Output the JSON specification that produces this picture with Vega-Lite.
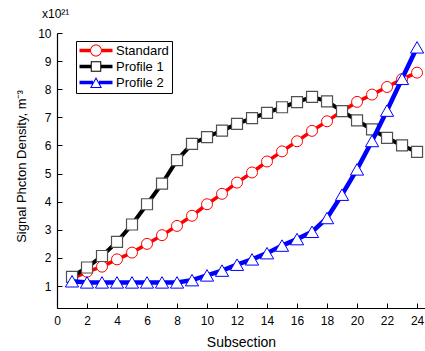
{
  "$schema": "https://vega.github.io/schema/vega-lite/v6.json",
  "width": 368,
  "height": 275,
  "autosize": {"type": "none"},
  "padding": {"left": 57, "top": 33, "right": 0, "bottom": 43},
  "background": "white",
  "title": {
    "text": "x10²¹",
    "anchor": "start",
    "frame": "group",
    "orient": "top",
    "dx": -15,
    "offset": 6,
    "font": "Liberation Sans",
    "fontSize": 12,
    "fontWeight": "normal",
    "color": "black"
  },
  "data": {
    "values": [
      {"s": "Standard", "x": 1, "y": 1.25}, {"s": "Standard", "x": 2, "y": 1.51}, {"s": "Standard", "x": 3, "y": 1.69},
      {"s": "Standard", "x": 4, "y": 1.95}, {"s": "Standard", "x": 5, "y": 2.19}, {"s": "Standard", "x": 6, "y": 2.5},
      {"s": "Standard", "x": 7, "y": 2.81}, {"s": "Standard", "x": 8, "y": 3.14}, {"s": "Standard", "x": 9, "y": 3.5},
      {"s": "Standard", "x": 10, "y": 3.91}, {"s": "Standard", "x": 11, "y": 4.28}, {"s": "Standard", "x": 12, "y": 4.68},
      {"s": "Standard", "x": 13, "y": 5.04}, {"s": "Standard", "x": 14, "y": 5.43}, {"s": "Standard", "x": 15, "y": 5.79},
      {"s": "Standard", "x": 16, "y": 6.15}, {"s": "Standard", "x": 17, "y": 6.52}, {"s": "Standard", "x": 18, "y": 6.86},
      {"s": "Standard", "x": 19, "y": 7.22}, {"s": "Standard", "x": 20, "y": 7.55}, {"s": "Standard", "x": 21, "y": 7.81},
      {"s": "Standard", "x": 22, "y": 8.08}, {"s": "Standard", "x": 23, "y": 8.36}, {"s": "Standard", "x": 24, "y": 8.59},
      {"s": "Profile 1", "x": 1, "y": 1.33}, {"s": "Profile 1", "x": 2, "y": 1.66}, {"s": "Profile 1", "x": 3, "y": 2.07},
      {"s": "Profile 1", "x": 4, "y": 2.57}, {"s": "Profile 1", "x": 5, "y": 3.19}, {"s": "Profile 1", "x": 6, "y": 3.91},
      {"s": "Profile 1", "x": 7, "y": 4.64}, {"s": "Profile 1", "x": 8, "y": 5.48}, {"s": "Profile 1", "x": 9, "y": 6.06},
      {"s": "Profile 1", "x": 10, "y": 6.3}, {"s": "Profile 1", "x": 11, "y": 6.53}, {"s": "Profile 1", "x": 12, "y": 6.77},
      {"s": "Profile 1", "x": 13, "y": 6.97}, {"s": "Profile 1", "x": 14, "y": 7.16}, {"s": "Profile 1", "x": 15, "y": 7.36},
      {"s": "Profile 1", "x": 16, "y": 7.54}, {"s": "Profile 1", "x": 17, "y": 7.73}, {"s": "Profile 1", "x": 18, "y": 7.57},
      {"s": "Profile 1", "x": 19, "y": 7.22}, {"s": "Profile 1", "x": 20, "y": 6.89}, {"s": "Profile 1", "x": 21, "y": 6.57},
      {"s": "Profile 1", "x": 22, "y": 6.27}, {"s": "Profile 1", "x": 23, "y": 6.0}, {"s": "Profile 1", "x": 24, "y": 5.77},
      {"s": "Profile 2", "x": 1, "y": 1.17}, {"s": "Profile 2", "x": 2, "y": 1.13}, {"s": "Profile 2", "x": 3, "y": 1.13},
      {"s": "Profile 2", "x": 4, "y": 1.13}, {"s": "Profile 2", "x": 5, "y": 1.13}, {"s": "Profile 2", "x": 6, "y": 1.13},
      {"s": "Profile 2", "x": 7, "y": 1.13}, {"s": "Profile 2", "x": 8, "y": 1.13}, {"s": "Profile 2", "x": 9, "y": 1.21},
      {"s": "Profile 2", "x": 10, "y": 1.38}, {"s": "Profile 2", "x": 11, "y": 1.55}, {"s": "Profile 2", "x": 12, "y": 1.76},
      {"s": "Profile 2", "x": 13, "y": 1.95}, {"s": "Profile 2", "x": 14, "y": 2.17}, {"s": "Profile 2", "x": 15, "y": 2.44},
      {"s": "Profile 2", "x": 16, "y": 2.67}, {"s": "Profile 2", "x": 17, "y": 2.93}, {"s": "Profile 2", "x": 18, "y": 3.42},
      {"s": "Profile 2", "x": 19, "y": 4.25}, {"s": "Profile 2", "x": 20, "y": 5.15}, {"s": "Profile 2", "x": 21, "y": 6.16},
      {"s": "Profile 2", "x": 22, "y": 7.24}, {"s": "Profile 2", "x": 23, "y": 8.37}, {"s": "Profile 2", "x": 24, "y": 9.49}
    ]
  },
  "encoding": {
    "x": {
      "field": "x",
      "type": "quantitative",
      "scale": {"domain": [0, 24.53], "nice": false, "zero": false},
      "axis": {
        "title": "Subsection",
        "values": [0, 2, 4, 6, 8, 10, 12, 14, 16, 18, 20, 22, 24],
        "grid": false,
        "tickSize": -5,
        "labelPadding": 12,
        "labelFlush": false,
        "labelOverlap": false,
        "titleY": 38,
        "titleBaseline": "alphabetic",
        "titleFontSize": 14
      }
    },
    "y": {
      "field": "y",
      "type": "quantitative",
      "scale": {"domain": [0.22, 10], "nice": false, "zero": false},
      "axis": {
        "title": "Signal Phcton Density, m⁻³",
        "values": [1, 2, 3, 4, 5, 6, 7, 8, 9, 10],
        "grid": false,
        "tickSize": -5,
        "labelPadding": 11,
        "labelFlush": false,
        "labelOverlap": false,
        "titleX": -32,
        "titleY": 133,
        "titleBaseline": "alphabetic",
        "titleFontSize": 13
      }
    }
  },
  "layer": [
    {
      "transform": [{"filter": "datum.s === 'Standard'"}],
      "mark": {"type": "line", "strokeWidth": 3.5},
      "encoding": {
        "color": {
          "field": "s",
          "type": "nominal",
          "scale": {"domain": ["Standard", "Profile 1", "Profile 2"], "range": ["#ff0000", "#000000", "#0000ff"]},
          "legend": {
            "title": null,
            "orient": "none",
            "legendX": 19,
            "legendY": 8,
            "padding": 3,
            "strokeColor": "black",
            "fillColor": "white",
            "symbolSize": 144,
            "labelOffset": 24,
            "rowPadding": 2,
            "labelFont": "Liberation Sans",
            "labelFontSize": 13,
            "labelColor": "black",
            "encode": {
              "symbols": {
                "update": {
                  "fill": {"scale": "color", "field": "value"},
                  "stroke": {"value": "transparent"},
                  "strokeWidth": {"value": 0},
                  "opacity": {"value": 1},
                  "size": {"value": 144},
                  "shape": {"signal": "datum.value === 'Standard' ? 'M-1,-0.29H0.75V0.29H-1Z M2.75,-0.29H4.5V0.29H2.75Z M0.75,0A1,1 0 1,1 2.75,0A1,1 0 1,1 0.75,0Z M0.92,0A0.83,0.83 0 1,0 2.58,0A0.83,0.83 0 1,0 0.92,0Z' : datum.value === 'Profile 1' ? 'M-1,-0.29H0.875V0.29H-1Z M2.625,-0.29H4.5V0.29H2.625Z M0.875,-0.875H2.625V0.875H0.875Z M1.045,-0.705V0.705H2.455V-0.705Z' : 'M-1,-0.29H1.25V0.29H-1Z M2.25,-0.29H4.5V0.29H2.25Z M1.75,-0.9L2.75,0.9L0.75,0.9Z M1.75,-0.55L1.04,0.73L2.46,0.73Z'"}
                }
              }
            }
          }
        }
      }
    },
    {
      "transform": [{"filter": "datum.s === 'Standard'"}],
      "mark": {"type": "point", "shape": "circle", "size": 120, "filled": true, "fill": "white", "stroke": "#ff0000", "strokeWidth": 1, "opacity": 1}
    },
    {
      "transform": [{"filter": "datum.s === 'Profile 1'"}],
      "mark": {"type": "line", "strokeWidth": 4},
      "encoding": {"color": {"field": "s", "type": "nominal"}}
    },
    {
      "transform": [{"filter": "datum.s === 'Profile 1'"}],
      "mark": {"type": "point", "shape": "square", "size": 121, "filled": true, "fill": "white", "stroke": "#505050", "strokeWidth": 1.2, "opacity": 1}
    },
    {
      "transform": [{"filter": "datum.s === 'Profile 2'"}],
      "mark": {"type": "line", "strokeWidth": 4.5},
      "encoding": {"color": {"field": "s", "type": "nominal"}}
    },
    {
      "transform": [{"filter": "datum.s === 'Profile 2'"}],
      "mark": {"type": "point", "shape": "triangle-up", "size": 175, "filled": true, "fill": "white", "stroke": "#0000ff", "strokeWidth": 1, "opacity": 1}
    }
  ],
  "config": {
    "view": {"stroke": null},
    "font": "Liberation Sans",
    "axis": {
      "domainColor": "black",
      "domainWidth": 1.2,
      "tickColor": "black",
      "tickWidth": 1,
      "labelFont": "Liberation Sans",
      "labelFontSize": 12,
      "labelColor": "black",
      "titleFont": "Liberation Sans",
      "titleFontWeight": "normal",
      "titleColor": "black"
    }
  }
}
